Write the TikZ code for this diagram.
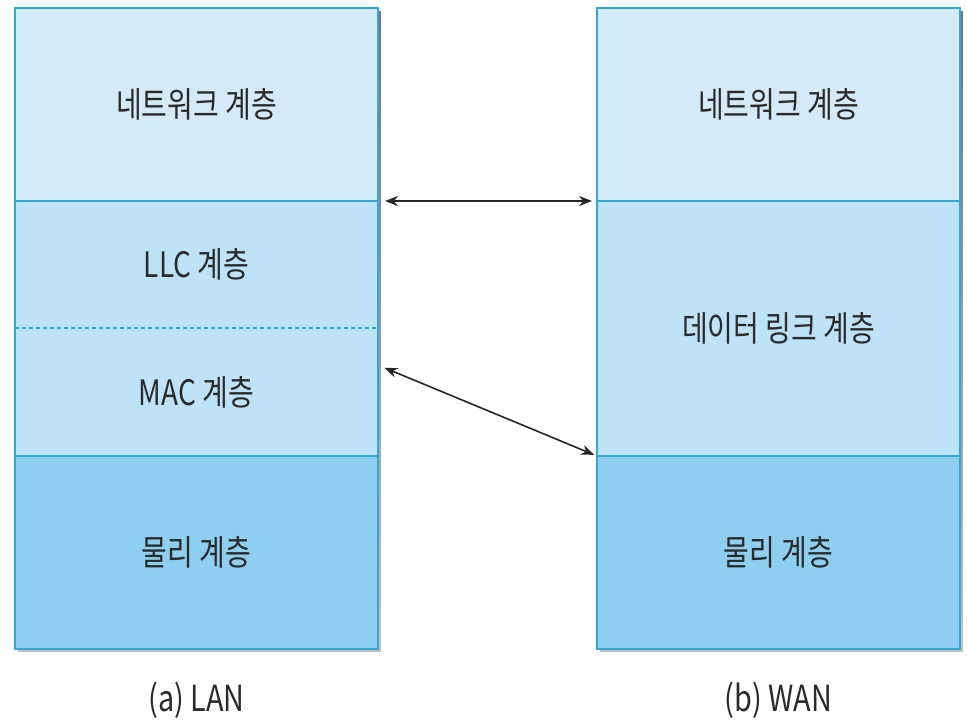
\documentclass[tikz,border=0pt]{standalone}
\usepackage{fontspec}
\setmainfont{Noto Sans CJK KR}[FakeStretch=0.8]
\usetikzlibrary{arrows.meta,calc}
\definecolor{layA}{HTML}{D4EAF8}
\definecolor{layB}{HTML}{BEE2F7}
\definecolor{layC}{HTML}{8ECFF1}
\definecolor{edge}{HTML}{33A8D2}
\definecolor{txt}{HTML}{2A2A2A}
\definecolor{shade}{HTML}{C8C8C8}
\begin{document}
\begin{tikzpicture}[x=1pt,y=-1pt,
  layer/.style={rectangle,inner sep=0pt,outer sep=0pt,minimum width=363pt,text=txt,
    font=\fontsize{35}{40}\selectfont},
  outline/.style={draw=edge,line width=2pt},
  link/.style={draw=black!85,line width=1.6pt,{Stealth[length=13pt,width=10pt]}-{Stealth[length=13pt,width=10pt]}},
  caption/.style={text=txt,font=\fontsize{36}{40}\selectfont}]
\useasboundingbox[fill=white] (0,0) rectangle (967,724);
% shadows
\fill[shade,opacity=0.6] (18,11) rectangle (381,652);
\fill[shade,opacity=0.6] (600,11) rectangle (963,652);
% LAN stack
\node[layer,fill=layA,minimum height=193pt] (lnet) at (196.5,104.5) {네트워크 계층};
\node[layer,fill=layB,minimum height=127pt] (lllc) at (196.5,264.5) {LLC 계층};
\node[layer,fill=layB,minimum height=128pt] (lmac) at (196.5,392) {MAC 계층};
\node[layer,fill=layC,minimum height=193pt] (lphy) at (196.5,552.5) {물리 계층};
% WAN stack
\node[layer,fill=layA,minimum height=193pt] (rnet) at (778.5,104.5) {네트워크 계층};
\node[layer,fill=layB,minimum height=255pt] (rdl) at (778.5,328.5) {데이터 링크 계층};
\node[layer,fill=layC,minimum height=193pt] (rphy) at (778.5,552.5) {물리 계층};
% borders
\draw[outline] (lnet.north west) rectangle (lphy.south east);
\draw[outline] (lnet.south west) -- (lnet.south east);
\draw[outline] (lmac.south west) -- (lmac.south east);
\draw[draw=edge,line width=1.6pt,dash pattern=on 4pt off 3pt] (lllc.south west) -- (lllc.south east);
\draw[outline] (rnet.north west) rectangle (rphy.south east);
\draw[outline] (rnet.south west) -- (rnet.south east);
\draw[outline] (rdl.south west) -- (rdl.south east);
% connectors
\coordinate (macport) at ($(lmac.north east)!0.29!(lmac.south east)$);
\draw[link,shorten <=7pt,shorten >=5pt] (lnet.south east) -- (rnet.south west);
\draw[link,shorten <=7pt,shorten >=3pt] (macport) -- (rdl.south west);
% captions
\node[caption] (capa) at (196.5,700) {(a) LAN};
\node[caption] (capb) at (778.5,700) {(b) WAN};
\end{tikzpicture}
\end{document}
